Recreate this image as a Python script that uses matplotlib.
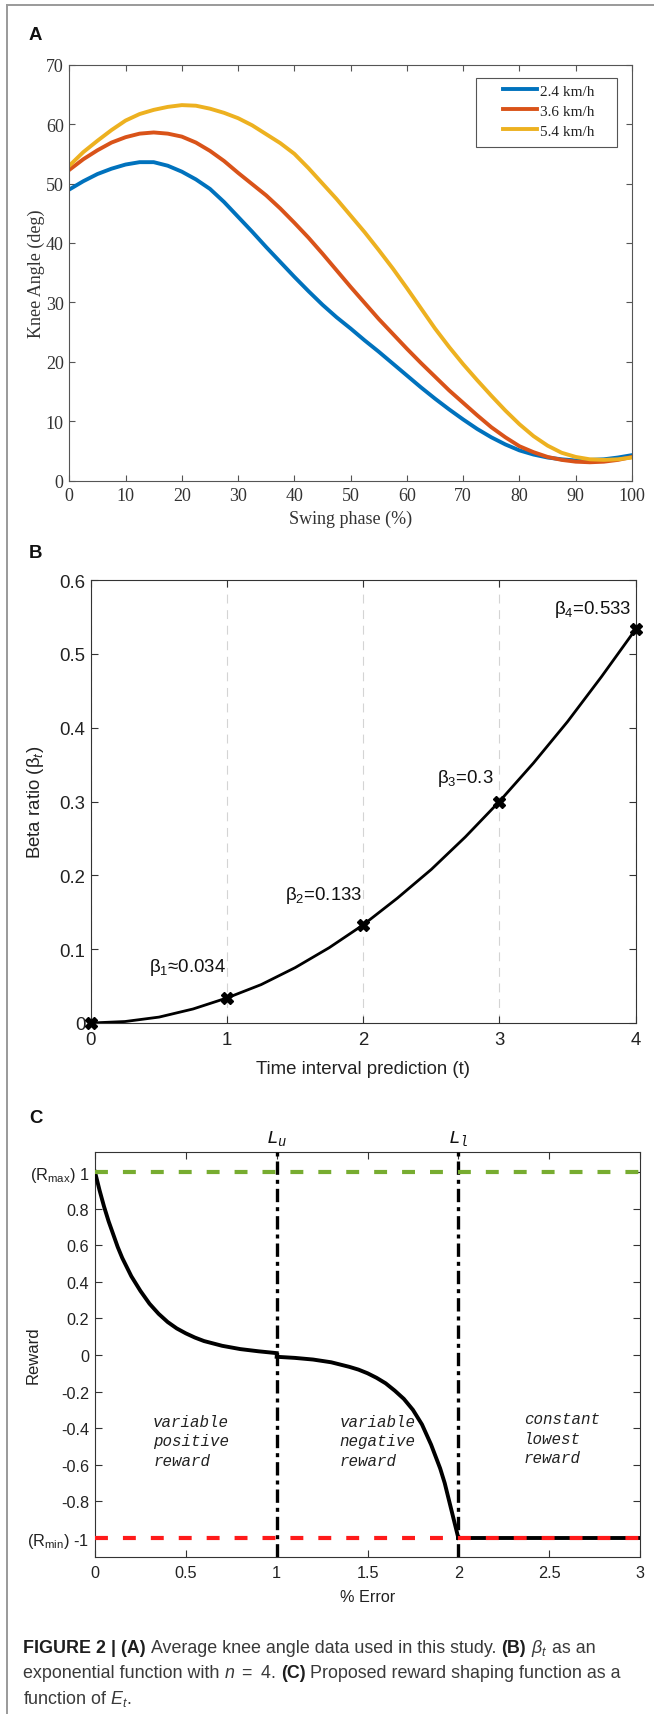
import matplotlib
matplotlib.use('Agg')
import matplotlib.pyplot as plt
from matplotlib.lines import Line2D
from matplotlib.patches import Rectangle
from matplotlib.transforms import blended_transform_factory

plt.rcParams['mathtext.fontset'] = 'custom'
plt.rcParams['mathtext.rm'] = 'Liberation Sans'
plt.rcParams['mathtext.it'] = 'Liberation Sans:italic'
plt.rcParams['mathtext.bf'] = 'Liberation Sans:bold'
plt.rcParams['mathtext.tt'] = 'Liberation Mono:italic'

# ---- panel A: knee angle over swing phase ----
swing = [0, 2.5, 5, 7.5, 10, 12.5, 15, 17.5, 20, 22.5, 25, 27.5, 30, 32.5, 35, 37.5, 40,
         42.5, 45, 47.5, 50, 52.5, 55, 57.5, 60, 62.5, 65, 67.5, 70, 72.5, 75, 77.5, 80,
         82.5, 85, 87.5, 90, 92.5, 95, 97.5, 100]
knee_24 = [49.0, 50.4, 51.6, 52.5, 53.2, 53.6, 53.6, 53.0, 52.0, 50.7, 49.1, 46.9, 44.4,
           41.9, 39.3, 36.8, 34.3, 31.9, 29.6, 27.5, 25.6, 23.6, 21.7, 19.7, 17.7, 15.7,
           13.8, 12.0, 10.3, 8.7, 7.3, 6.1, 5.1, 4.4, 3.9, 3.6, 3.4, 3.5, 3.6, 3.9, 4.3]
knee_36 = [52.3, 54.1, 55.6, 56.9, 57.8, 58.4, 58.6, 58.4, 57.9, 56.9, 55.5, 53.8, 51.8,
           49.9, 48.0, 45.8, 43.4, 40.9, 38.2, 35.4, 32.6, 29.9, 27.2, 24.7, 22.2, 19.8,
           17.5, 15.2, 13.1, 11.0, 9.0, 7.3, 5.8, 4.8, 4.0, 3.5, 3.2, 3.1, 3.2, 3.5, 4.0]
knee_54 = [53.0, 55.3, 57.2, 59.0, 60.6, 61.7, 62.4, 62.9, 63.2, 63.1, 62.6, 61.9, 61.0,
           59.8, 58.3, 56.8, 55.0, 52.6, 50.0, 47.4, 44.6, 41.8, 38.8, 35.7, 32.4, 29.0,
           25.6, 22.5, 19.6, 16.9, 14.3, 11.8, 9.5, 7.5, 5.9, 4.7, 4.0, 3.6, 3.5, 3.6, 3.9]
speed_labels = ['2.4 km/h', '3.6 km/h', '5.4 km/h']
speed_colors = ['#0072BD', '#D95319', '#EDB120']

# ---- panel B: beta ratio ----
t_curve = [0, 0.25, 0.5, 0.75, 1, 1.25, 1.5, 1.75, 2,
           2.25, 2.5, 2.75, 3, 3.25, 3.5, 3.75, 4]
beta_curve = [0, 0.002, 0.008, 0.019, 0.034, 0.052, 0.075, 0.102, 0.133,
              0.169, 0.208, 0.252, 0.300, 0.352, 0.408, 0.469, 0.533]
t_points = [0, 1, 2, 3, 4]
beta_points = [0, 0.034, 0.133, 0.3, 0.533]
beta_labels = ['β$_1$≈0.034', 'β$_2$=0.133', 'β$_3$=0.3', 'β$_4$=0.533']

# ---- panel C: reward shaping ----
err_pos = [0, 0.025, 0.05, 0.075, 0.1, 0.125, 0.15, 0.175, 0.2, 0.25, 0.3, 0.35, 0.4,
           0.45, 0.5, 0.55, 0.6, 0.7, 0.8, 0.9, 1.0]
rew_pos = [1.0, 0.90, 0.81, 0.73, 0.66, 0.59, 0.53, 0.48, 0.43, 0.35, 0.28, 0.225, 0.18,
           0.145, 0.118, 0.095, 0.076, 0.05, 0.032, 0.02, 0.01]
err_neg = [1.0, 1.1, 1.2, 1.3, 1.4, 1.45, 1.5, 1.55, 1.6, 1.65, 1.7, 1.75, 1.8, 1.85,
           1.9, 1.925, 1.95, 1.975, 2.0]
rew_neg = [-0.01, -0.016, -0.025, -0.04, -0.065, -0.08, -0.1, -0.125, -0.155, -0.195,
           -0.24, -0.3, -0.38, -0.49, -0.62, -0.7, -0.8, -0.9, -1.0]
err_const = [2.0, 3.0]
rew_const = [-1.0, -1.0]
r_max, r_min = 1.0, -1.0
limit_pos = [1.0, 2.0]
limit_labels = [r'$\mathtt{L_u}$', r'$\mathtt{L_l}$']
region_labels = ['variable\npositive\nreward', 'variable\nnegative\nreward', 'constant\nlowest\nreward']

W, H = 654, 1715
fig = plt.figure(figsize=(W / 100, H / 100), dpi=100)


def box(l, t, r, b):
    return [l / W, 1 - b / H, (r - l) / W, (b - t) / H]


def ftext(x, y, s, **kw):
    return fig.text(x / W, 1 - y / H, s, **kw)


SERIF = 'Liberation Serif'
SANS = 'Liberation Sans'

# border lines of the figure frame
fig.add_artist(Line2D([7 / W, 7 / W], [1 - 6 / H, 0], color='#9a9a9a', lw=1.4, transform=fig.transFigure))
fig.add_artist(Line2D([7 / W, 1], [1 - 6 / H, 1 - 6 / H], color='#9a9a9a', lw=1.4, transform=fig.transFigure))

# ================= A =================
axA = fig.add_axes(box(69.3, 65.7, 632, 481.7))
for vals, lab, c in zip([knee_24, knee_36, knee_54], speed_labels, speed_colors):
    axA.plot(swing, vals, color=c, lw=2.8, label=lab)
axA.set_xlim(0, 100)
axA.set_ylim(0, 70)
axA.set_xticks(range(0, 101, 10), labels=[str(v) for v in range(0, 101, 10)], fontfamily=SERIF, fontsize=13)
axA.set_yticks(range(0, 71, 10), labels=[str(v) for v in range(0, 71, 10)], fontfamily=SERIF, fontsize=13)
axA.tick_params(direction='in', top=True, right=True, length=4, width=0.8, colors='#555555', labelcolor='#333333')
axA.tick_params(axis='x', pad=4.5)
axA.tick_params(axis='y', pad=4)
for s in axA.spines.values():
    s.set_color('#555555')
    s.set_linewidth(0.8)
leg = axA.legend(loc='upper left', bbox_to_anchor=(0.7707, 0.9536), frameon=False, borderpad=0,
                 borderaxespad=0, handlelength=2.2, handletextpad=0.2, labelspacing=0.41,
                 prop={'family': SERIF, 'size': 11})
for tx in leg.get_texts():
    tx.set_color('#222222')
axA.add_patch(Rectangle((0.7228, 0.802), 0.2505, 0.166, transform=axA.transAxes, fill=False,
                        ec='#555555', lw=0.8))
ftext(350.7, 519, 'Swing phase (%)', ha='center', va='center', fontfamily=SERIF, fontsize=13, color='#333333')
ftext(36.5, 273.7, 'Knee Angle (deg)', ha='center', va='center', rotation=90, fontfamily=SERIF,
      fontsize=13, color='#333333')

# ================= B =================
axB = fig.add_axes(box(91, 581, 635.5, 1024))
axB.plot(t_curve, beta_curve, color='k', lw=2)
axB.plot(t_points, beta_points, ls='none', marker='X', color='k', ms=9, clip_on=False, zorder=5)
axB.set_xlim(0, 4)
axB.set_ylim(0, 0.6)
axB.set_xticks(t_points, labels=[str(v) for v in t_points], fontfamily=SANS, fontsize=13.4)
yb = [0, 0.1, 0.2, 0.3, 0.4, 0.5, 0.6]
axB.set_yticks(yb, labels=['0', '0.1', '0.2', '0.3', '0.4', '0.5', '0.6'], fontfamily=SANS, fontsize=13.4)
axB.xaxis.grid(True, color='#d4d4d4', lw=0.8, ls=(0, (8, 6)))
axB.set_axisbelow(True)
axB.tick_params(direction='in', top=True, right=True, length=5, width=0.8, colors='#333333', labelcolor='#222222')
axB.tick_params(axis='x', pad=6)
axB.tick_params(axis='y', pad=4)
for s in axB.spines.values():
    s.set_color('#333333')
    s.set_linewidth(0.8)
label_t = [0.99, 1.995, 2.959, 3.968]
label_y = [0.0708, 0.168, 0.327, 0.555]
for tx, ty, lab in zip(label_t, label_y, beta_labels):
    axB.text(tx, ty, lab, ha='right', va='baseline', fontsize=13.4,
             fontfamily=[SANS, 'DejaVu Sans'], color='#111111')
ftext(363, 1070, 'Time interval prediction (t)', ha='center', va='center', fontfamily=SANS,
      fontsize=13.4, color='#222222')
ftext(35, 802.5, 'Beta ratio (β$_t$)', ha='center', va='center', rotation=90, fontfamily=SANS,
      fontsize=13.4, color='#222222')

# ================= C =================
axC = fig.add_axes(box(95, 1153, 640, 1558))
axC.plot(err_pos, rew_pos, color='k', lw=2.8, zorder=3)
axC.plot(err_neg, rew_neg, color='k', lw=2.8, zorder=3)
axC.plot(err_const, rew_const, color='k', lw=2.8, zorder=3)
for xv in limit_pos:
    axC.axvline(xv, color='k', lw=2.4, ls=(0, (4, 1.5, 1.2, 1.5)), zorder=4)
axC.axhline(r_max, color='#77AC30', lw=3, ls=(0, (3.1, 3.6)), zorder=5)
axC.axhline(r_min, color='#FF1A1A', lw=3, ls=(0, (3.1, 3.6)), zorder=5)
axC.set_xlim(0, 3)
axC.set_ylim(-1.104, 1.109)
xc = [0, 0.5, 1, 1.5, 2, 2.5, 3]
axC.set_xticks(xc, labels=['0', '0.5', '1', '1.5', '2', '2.5', '3'], fontfamily=SANS, fontsize=11.7)
yc = [-1, -0.8, -0.6, -0.4, -0.2, 0, 0.2, 0.4, 0.6, 0.8, 1]
yc_labels = [r'(R$_{\mathrm{min}}$) -1', '-0.8', '-0.6', '-0.4', '-0.2', '0', '0.2', '0.4', '0.6', '0.8',
             r'(R$_{\mathrm{max}}$) 1']
axC.set_yticks(yc, labels=yc_labels, fontfamily=SANS, fontsize=11.7)
axC.tick_params(direction='in', top=True, right=True, length=5, width=0.8, colors='#333333', labelcolor='#222222')
axC.tick_params(axis='x', pad=5.5)
axC.tick_params(axis='y', pad=4.3)
for s in axC.spines.values():
    s.set_color('#333333')
    s.set_linewidth(0.8)
trC = blended_transform_factory(axC.transData, axC.transAxes)
for xv, lab in zip(limit_pos, limit_labels):
    axC.text(xv, 1.037, lab, transform=trC, ha='center', va='center', fontsize=14, color='#111111')
region_x = [0.32, 1.346, 2.36]
region_y = [-0.468, -0.468, -0.456]
for rx, ry, lab in zip(region_x, region_y, region_labels):
    axC.text(rx, ry, lab, ha='left', va='center', fontfamily='Liberation Mono', style='italic',
             fontsize=11.4, linespacing=1.38, color='#222222', zorder=6)
ftext(367.5, 1598, '% Error', ha='center', va='center', fontfamily=SANS, fontsize=11.7, color='#222222')
ftext(33, 1355, 'Reward', ha='center', va='center', rotation=90, fontfamily=SANS, fontsize=12, color='#222222')

# panel letters
for lab, y in zip(['A', 'B', 'C'], [35, 553, 1119]):
    ftext(29, y, lab, ha='left', va='center', fontfamily=SANS, fontweight='bold', fontsize=13.4, color='#111111')

# ================= caption =================
renderer = fig.canvas.get_renderer()


def text_width(s, size, weight='normal'):
    t = ftext(0, 0, s, fontsize=size, fontweight=weight, fontfamily=SANS)
    w = t.get_window_extent(renderer).width
    t.remove()
    return w


def draw_line(x0, y, parts, size):
    sp = text_width('a a', size) - text_width('aa', size)
    x = x0
    arts = []
    for s, w in parts:
        col = '#1e1e1e' if w == 'bold' else '#3a3a3a'
        t = ftext(x, y, s, fontsize=size, fontweight=w, fontfamily=SANS, color=col, va='baseline', ha='left')
        x += t.get_window_extent(renderer).width + sp
        arts.append(t)
    return x - sp - x0, arts


cap_lines = [
    [('FIGURE 2 | (A)', 'bold'), ('Average knee angle data used in this study.', 'normal'),
     ('(B)', 'bold'), (r'$\beta_t$', 'normal'), ('as an', 'normal')],
    [('exponential function with', 'normal'), (r'$n\ =\ 4$.', 'normal'), ('(C)', 'bold'),
     ('Proposed reward shaping function as a', 'normal')],
    [(r'function of $E_t$.', 'normal')],
]
cap_base = [1653, 1678, 1704]

w0, arts = draw_line(23, cap_base[0], cap_lines[0], 10)
for a in arts:
    a.remove()
cap_size = 10 * 574 / w0
for parts, yb_ in zip(cap_lines, cap_base):
    draw_line(23, yb_, parts, cap_size)

fig.savefig('out.png', dpi=100)
